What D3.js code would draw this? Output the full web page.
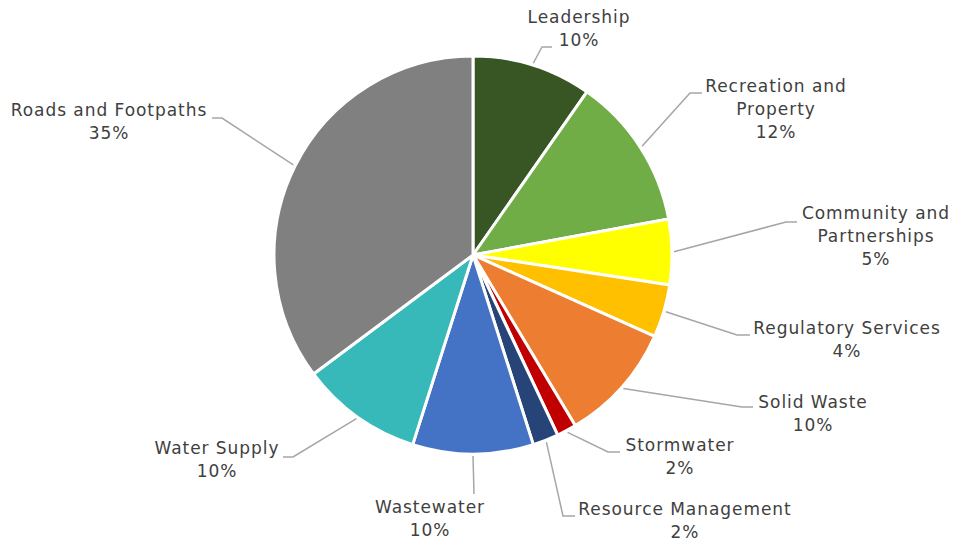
<!DOCTYPE html>
<html>
<head>
<meta charset="utf-8">
<script src="https://cdn.jsdelivr.net/npm/d3@7"></script>
<style>
	body { margin: 0; background: #fff; }
	svg { display: block; }
	.label { font-family: "DejaVu Sans", Verdana, sans-serif; font-size: 17px; letter-spacing: 0.95px; fill: #404040; }
	.leader { fill: none; stroke: #a6a6a6; stroke-width: 1.5; }
</style>
</head>
<body>
<svg></svg>
<script>
// slice data, clockwise from 12 o'clock
const categories = ['Leadership', 'Recreation and Property', 'Community and Partnerships',
	'Regulatory Services', 'Solid Waste', 'Stormwater', 'Resource Management',
	'Wastewater', 'Water Supply', 'Roads and Footpaths'];
const values = [9.7, 12.4, 5.3, 4.3, 9.7, 1.6, 2.1, 9.8, 9.9, 35.2];
const colors = ['#375623', '#70ad47', '#ffff00', '#ffc000', '#ed7d31',
	'#c00000', '#264478', '#4472c4', '#37b8b9', '#808080'];
const labelLines = [['Leadership'], ['Recreation and', 'Property'], ['Community and', 'Partnerships'],
	['Regulatory Services'], ['Solid Waste'], ['Stormwater'], ['Resource Management'],
	['Wastewater'], ['Water Supply'], ['Roads and Footpaths']];

// label layout: text centre / first line y, leader elbow and end
const labelLayout = [
	{ tx: 579, ty: 18, ex: 542, ey: 47, hx: 552 },
	{ tx: 776, ty: 87, ex: 690, ey: 93, hx: 702 },
	{ tx: 876, ty: 214, ex: 786, ey: 222, hx: 797 },
	{ tx: 847, ty: 329, ex: 737, ey: 335, hx: 750 },
	{ tx: 813, ty: 403, ex: 742, ey: 407, hx: 753 },
	{ tx: 680, ty: 446, ex: 608, ey: 452, hx: 620 },
	{ tx: 685, ty: 510, ex: 563, ey: 516, hx: 575 },
	{ tx: 430, ty: 508, ex: 474, ey: 494, hx: 474 },
	{ tx: 217, ty: 449, ex: 293, ey: 457, hx: 283 },
	{ tx: 109, ty: 111, ex: 222, ey: 118, hx: 212 },
];

const width = 956;
const height = 542;
const cx = 473;
const cy = 255;
const radius = 199;
const lineH = 23;

const data = categories.map((c, i) => ({ name: c, value: values[i], color: colors[i], lines: labelLines[i], layout: labelLayout[i] }));
const total = d3.sum(values);

const svg = d3.select('svg')
	.attr('width', width)
	.attr('height', height);

const pie = d3.pie()
	.value(d => d.value)
	.sort(null);

const arc = d3.arc()
	.innerRadius(0)
	.outerRadius(radius);

const edge = d3.arc()
	.innerRadius(radius + 2)
	.outerRadius(radius + 2);

const arcs = pie(data);

const g = svg.append('g')
	.attr('transform', 'translate(' + cx + ',' + cy + ')');

g.selectAll('.slice')
	.data(arcs)
	.enter().append('path')
	.attr('class', 'slice')
	.attr('d', arc)
	.attr('fill', d => d.data.color)
	.attr('stroke', '#fff')
	.attr('stroke-width', 3)
	.attr('stroke-linejoin', 'round');

// leader lines
svg.selectAll('.leader')
	.data(arcs)
	.enter().append('polyline')
	.attr('class', 'leader')
	.attr('points', d => {
		const p = edge.centroid(d);
		const l = d.data.layout;
		return [[p[0] + cx, p[1] + cy], [l.ex, l.ey], [l.hx, l.ey]].map(q => q.join(',')).join(' ');
	});

// labels
const labels = svg.selectAll('.label')
	.data(arcs)
	.enter().append('text')
	.attr('class', 'label')
	.attr('text-anchor', 'middle')
	.attr('dominant-baseline', 'middle');

labels.each(function(d) {
	const t = d3.select(this);
	const l = d.data.layout;
	const lines = d.data.lines.concat([Math.round(d.data.value / total * 100) + '%']);
	lines.forEach((s, i) => {
		t.append('tspan')
			.attr('x', l.tx)
			.attr('y', l.ty + i * lineH)
			.text(s);
	});
});
</script>
</body>
</html>
